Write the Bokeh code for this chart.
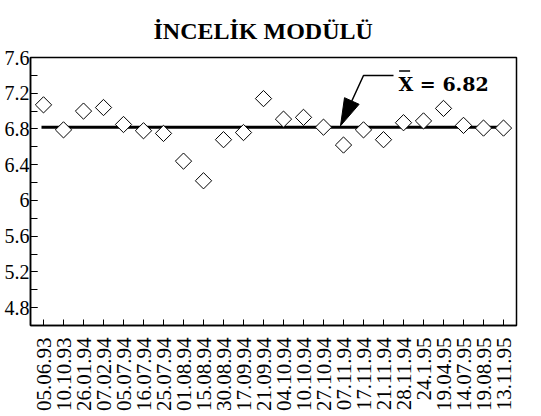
import math
from bokeh.plotting import figure
from bokeh.models import ColumnDataSource, FixedTicker, Range1d
from bokeh.core.properties import value
from bokeh.embed import file_html
from bokeh.resources import INLINE

# Sample dates (x categories) and fineness modulus readings
dates = ["05.06.93", "10.10.93", "26.01.94", "07.02.94", "05.07.94", "16.07.94",
         "25.07.94", "01.08.94", "15.08.94", "30.08.94", "17.09.94", "21.09.94",
         "04.10.94", "10.10.94", "27.10.94", "07.11.94", "17.11.94", "21.11.94",
         "28.11.94", "24.1.95", "19.04.95", "14.07.95", "19.08.95", "13.11.95"]
modulus = [7.07, 6.79, 7.00, 7.04, 6.85, 6.78, 6.75, 6.44, 6.22, 6.68, 6.76, 7.14,
           6.91, 6.93, 6.82, 6.62, 6.79, 6.68, 6.87, 6.89, 7.03, 6.84, 6.81, 6.81]
mean_value = 6.82

y_major = [4.8, 5.2, 5.6, 6.0, 6.4, 6.8, 7.2, 7.6]
y_labels = ["4.8", "5.2", "5.6", "6", "6.4", "6.8", "7.2", "7.6"]
y_minor = [round(4.6 + 0.2 * i, 1) for i in range(16)]

SERIF = "Liberation Serif"

idx = list(range(len(dates)))
src = ColumnDataSource(dict(x=idx, y=modulus))

p = figure(width=541, height=416, output_backend="svg", toolbar_location=None,
           x_range=Range1d(-0.65, len(dates) - 1 + 0.65),
           y_range=Range1d(4.6, 7.6),
           min_border_left=30, min_border_right=25,
           min_border_top=57, min_border_bottom=91)

# title
p.title.text = "İNCELİK MODÜLÜ"
p.title.text_font = SERIF
p.title.text_font_size = "24px"
p.title.text_font_style = "bold"
p.title.align = "left"
p.title.offset = 123
p.title.standoff = 27
p.title.text_color = "black"

p.grid.visible = False
p.outline_line_color = "black"
p.outline_line_width = 1.5
p.background_fill_color = "white"
p.border_fill_color = "white"

# x axis: one tick per sample date, labels rotated
xa = p.xaxis[0]
xa.ticker = FixedTicker(ticks=idx, minor_ticks=[])
xa.major_label_overrides = {i: d for i, d in enumerate(dates)}
xa.major_label_orientation = math.pi / 2
xa.major_label_text_font = SERIF
xa.major_label_text_font_size = "21px"
xa.major_label_text_color = "black"
xa.major_label_standoff = 12
xa.major_tick_in = 6
xa.major_tick_out = 0
xa.axis_line_width = 1.5
xa.axis_line_color = "black"
xa.major_tick_line_color = "black"

# y axis
ya = p.yaxis[0]
ya.ticker = FixedTicker(ticks=y_major, minor_ticks=y_minor)
ya.major_label_overrides = {v: s for v, s in zip(y_major, y_labels)}
ya.major_label_text_font = SERIF
ya.major_label_text_font_size = "20px"
ya.major_label_text_color = "black"
ya.major_label_standoff = 1
ya.major_tick_in = 7
ya.major_tick_out = 0
ya.minor_tick_in = 7
ya.minor_tick_out = 0
ya.axis_line_width = 1.5
ya.axis_line_color = "black"
ya.major_tick_line_color = "black"
ya.minor_tick_line_color = "black"

# mean line
p.line([idx[0] - 0.1, idx[-1] + 0.1], [mean_value, mean_value],
       line_color="black", line_width=3)

# data points as open diamonds
p.scatter("x", "y", source=src, marker="square", angle=math.pi / 4, size=11.5,
          fill_color="white", line_color="black", line_width=1)

# mean annotation: leader line with filled arrow head
lead_x = [17.5, 16.0, 15.415]
lead_y = [7.398, 7.398, 7.113]
p.line(lead_x, lead_y, line_color="black", line_width=1.5)
p.patch([14.85, 15.78, 15.05], [mean_value + 0.015, 7.076, 7.15],
        fill_color="black", line_color="black", line_width=1)

p.text(x=[17.75], y=[7.308], text=["X = " + f"{mean_value:.2f}"],
       text_font=value("DejaVu Serif"), text_font_style="bold",
       text_font_size="19px", text_baseline="middle", text_align="left",
       text_color="black")
# bar over the X
p.line([17.78, 18.33], [7.45, 7.45], line_color="black", line_width=1.5)

open("out.html", "w").write(file_html(p, INLINE))
